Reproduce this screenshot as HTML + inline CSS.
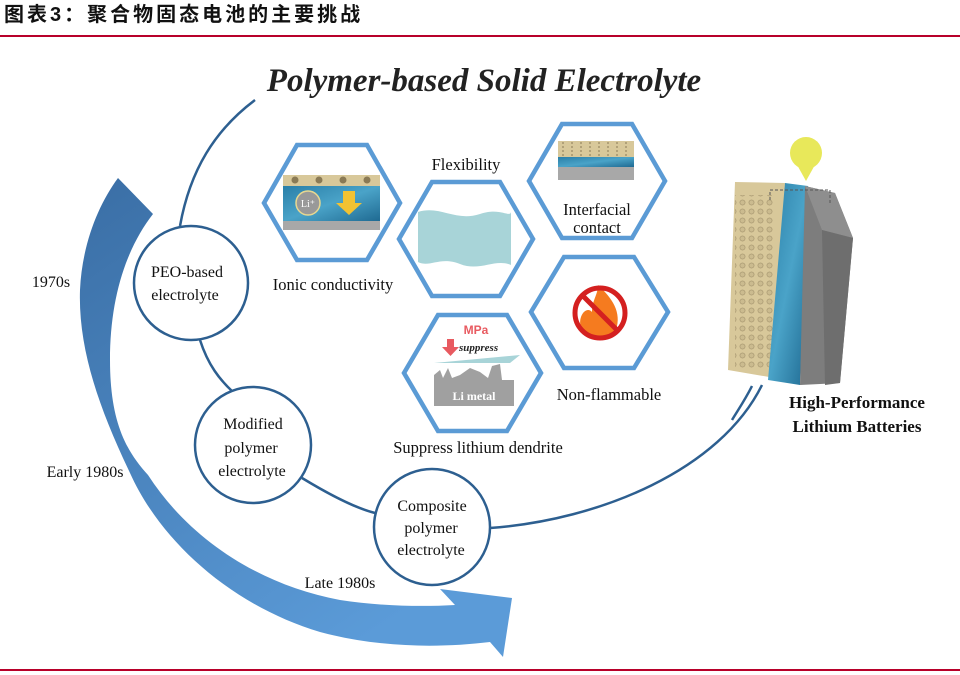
<!DOCTYPE html>
<html><head><meta charset="utf-8"><style>
html,body{margin:0;padding:0;background:#fff;}
svg{display:block;}
</style></head><body>
<svg width="960" height="675" viewBox="0 0 960 675" xmlns="http://www.w3.org/2000/svg">
<defs>
<linearGradient id="ag" x1="0" y1="0" x2="0.6" y2="1">
<stop offset="0" stop-color="#3a6ea5"/><stop offset="1" stop-color="#5b9bd8"/></linearGradient>
<linearGradient id="bl" x1="0" y1="0" x2="1" y2="1">
<stop offset="0" stop-color="#2a7fa8"/><stop offset="0.5" stop-color="#4aa3c8"/><stop offset="1" stop-color="#1f6a92"/></linearGradient>
<pattern id="dots" width="9" height="9" patternUnits="userSpaceOnUse"><circle cx="4.5" cy="4.5" r="2.6" fill="#c9b98e" stroke="#9c8c66" stroke-width="0.6"/></pattern>
</defs>
<text x="4" y="21" font-family="'Liberation Sans','Noto Sans CJK SC',sans-serif" font-size="20" font-weight="bold" letter-spacing="3" fill="#111">图表3：聚合物固态电池的主要挑战</text>
<rect x="0" y="35" width="960" height="2" fill="#b8002a"/>
<rect x="0" y="669" width="960" height="2" fill="#b8002a"/>

<!-- big arrow -->
<path d="M118,178 L153,214 C125,250 110,300 110,360 C110,420 125,450 148,475 C190,540 260,585 340,600 C380,606 420,607 455,605 L440,589 L512,598 L503,657 L490,642 C440,648 380,648 320,632 C230,605 160,540 130,473 C100,410 78,350 80,290 C82,245 98,205 118,178 Z" fill="url(#ag)"/>

<!-- spiral line -->
<g fill="none" stroke="#2d5f90" stroke-width="2.5">
<path d="M255,100 C215,130 190,170 180,226"/>
<path d="M200,340 C208,365 220,380 233,392"/>
<path d="M302,478 C330,495 355,508 375,513"/>
<path d="M490,528 C600,520 720,470 762,385"/>
<circle cx="191" cy="283" r="57" fill="#fff"/>
<circle cx="253" cy="445" r="58" fill="#fff"/>
<circle cx="432" cy="527" r="58" fill="#fff"/>
</g>
<g font-family="'Liberation Serif',serif" font-size="16" fill="#111" text-anchor="middle">
<text x="187" y="277">PEO-based</text><text x="185" y="300">electrolyte</text>
<text x="253" y="429">Modified</text><text x="251" y="453">polymer</text><text x="252" y="476">electrolyte</text>
<text x="432" y="511">Composite</text><text x="431" y="533">polymer</text><text x="431" y="555">electrolyte</text>
<text x="51" y="287">1970s</text>
<text x="85" y="477">Early 1980s</text>
<text x="340" y="588">Late 1980s</text>
</g>

<text x="484" y="91" font-family="'Liberation Serif',serif" font-size="33" font-weight="bold" font-style="italic" text-anchor="middle" fill="#222">Polymer-based Solid Electrolyte</text>

<!-- hexagons -->
<g fill="#fff" stroke="#5b9bd5" stroke-width="4.5">
<polygon points="264,203 297,145 367,145 400,203 367,260 297,260"/>
<polygon points="399,239 432,182 500,182 533,239 500,296 432,296"/>
<polygon points="529,181 562,124 632,124 665,181 632,238 562,238"/>
<polygon points="531,312 564,257 634,257 668,312 634,368 564,368"/>
<polygon points="404,373 438,315 507,315 541,373 507,431 438,431"/>
</g>
<!-- ionic icon -->
<rect x="283" y="175" width="97" height="11" fill="#d8c89a"/>
<g fill="#8a7a55"><circle cx="295" cy="180" r="3.5"/><circle cx="319" cy="180" r="3.5"/><circle cx="343" cy="180" r="3.5"/><circle cx="367" cy="180" r="3.5"/></g>
<rect x="283" y="186" width="97" height="35" fill="url(#bl)"/>
<rect x="283" y="221" width="97" height="9" fill="#a8a8a8"/>
<circle cx="308" cy="203" r="12" fill="#999" stroke="#e8d890" stroke-width="1.5"/>
<text x="308" y="207" font-family="'Liberation Serif',serif" font-size="10" fill="#fff" text-anchor="middle">Li⁺</text>
<path d="M343,191 h12 v12 h7 l-13,12 l-13,-12 h7z" fill="#f2c232"/>
<!-- flexibility -->
<path d="M418,212 C440,205 455,222 480,214 C500,207 510,218 511,212 L511,265 C495,258 480,272 460,264 C440,256 430,268 418,262 Z" fill="#a8d4d8"/>
<!-- interfacial -->
<rect x="558" y="141" width="76" height="16" fill="#d8c89a"/>
<g stroke="#8a7a55" stroke-width="1" stroke-dasharray="2,2"><path d="M563,142v15M572,142v15M581,142v15M590,142v15M599,142v15M608,142v15M617,142v15M626,142v15"/></g>
<rect x="558" y="157" width="76" height="10" fill="url(#bl)"/>
<rect x="558" y="167" width="76" height="13" fill="#a8a8a8"/>
<!-- no fire -->
<path d="M598,285 C612,298 622,312 616,330 C610,340 588,342 582,330 C576,318 586,305 592,312 C592,300 598,295 598,285Z" fill="#f57b1f"/>
<circle cx="600" cy="313" r="25" fill="none" stroke="#d42020" stroke-width="5"/>
<path d="M582,295 L618,331" stroke="#d42020" stroke-width="5"/>
<!-- suppress -->
<text x="476" y="334" font-family="'Liberation Sans',sans-serif" font-size="12" font-weight="bold" fill="#e85a60" text-anchor="middle">MPa</text>
<path d="M447,339 h7 v8 h5 l-8.5,9 l-8.5,-9 h5z" fill="#e85a60"/>
<text x="459" y="351" font-family="'Liberation Serif',serif" font-size="11" font-weight="bold" font-style="italic" fill="#222">suppress</text>
<polygon points="434,363 520,355 510,363 428,363" fill="#a8d4d8"/>
<path d="M434,406 L434,375 L440,370 L443,378 L448,368 L452,378 L460,375 L470,368 L480,372 L488,378 L492,366 L500,364 L502,380 L514,380 L514,406Z" fill="#a0a0a0"/>
<text x="474" y="400" font-family="'Liberation Serif',serif" font-size="12" font-weight="bold" fill="#fff" text-anchor="middle">Li metal</text>

<g font-family="'Liberation Serif',serif" font-size="16.5" fill="#111" text-anchor="middle">
<text x="466" y="170">Flexibility</text>
<text x="333" y="290">Ionic conductivity</text>
<text x="597" y="215">Interfacial</text><text x="597" y="233">contact</text>
<text x="609" y="400">Non-flammable</text>
<text x="478" y="453">Suppress lithium dendrite</text>
</g>

<!-- battery -->
<polygon points="735,182 785,183 775,378 728,370" fill="#d8c89a"/>
<rect x="735" y="195" width="40" height="175" fill="url(#dots)" opacity="0.9"/>
<polygon points="785,183 808,186 800,385 768,380" fill="url(#bl)"/>
<polygon points="805,186 835,193 853,238 840,383 800,385" fill="#7d7d7d"/>
<polygon points="805,186 835,193 853,238 822,230" fill="#8e8e8e"/>
<polygon points="822,230 853,238 840,383 825,385" fill="#6e6e6e"/>
<path d="M770,200 v-10 h60 v15" fill="none" stroke="#555" stroke-width="1" stroke-dasharray="3,2"/>
<circle cx="806" cy="153" r="16" fill="#e8e85a"/>
<path d="M796,163 L806,181 L816,163Z" fill="#e8e85a"/>
<path d="M752,386 C745,400 738,410 732,420" stroke="#2d5f90" stroke-width="2.5" fill="none"/>
<g font-family="'Liberation Serif',serif" font-size="17" font-weight="bold" fill="#111" text-anchor="middle">
<text x="857" y="408">High-Performance</text><text x="857" y="432">Lithium Batteries</text>
</g>
</svg>
</body></html>
